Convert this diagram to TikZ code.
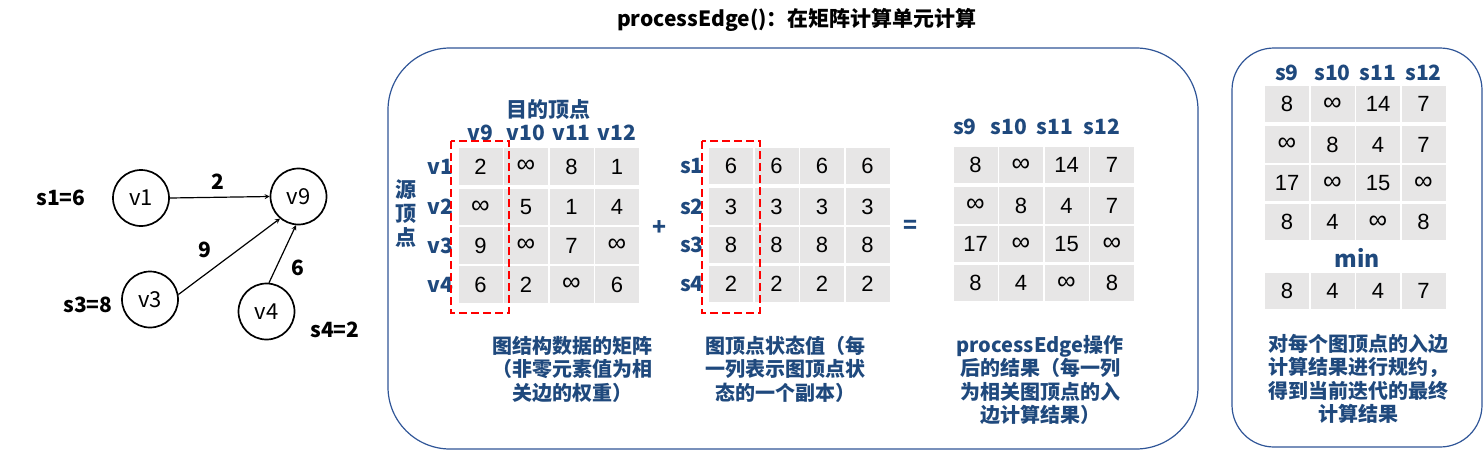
\documentclass[tikz,border=0pt]{standalone}
\usepackage{fontspec}
\setmainfont{Noto Sans CJK SC}
\newfontfamily\cellfont{Liberation Sans}
\usetikzlibrary{positioning}

\definecolor{hdrblue}{RGB}{31,73,125}
\definecolor{panelblue}{RGB}{47,85,151}
\definecolor{cellgray}{RGB}{231,230,230}

\newcommand{\infsym}{{\fontsize{26}{24}\selectfont ∞}}

\tikzset{
  vert/.style={circle, draw, line width=1.7pt, minimum size=56pt, inner sep=0pt, font=\fontsize{22}{24}\selectfont},
  wlabel/.style={inner sep=0pt, font=\fontsize{21}{24}\selectfont\bfseries},
  cell/.style={fill=cellgray, minimum width=44pt, minimum height=36.5pt, inner sep=0pt, font=\fontsize{22}{24}\cellfont},
  hdr/.style={text=hdrblue, inner sep=0pt, font=\fontsize{21}{24}\selectfont\bfseries},
  caption/.style={text=hdrblue, align=center, inner sep=0pt, font=\fontsize{20}{23.5}\selectfont\bfseries},
  panel/.style={draw=panelblue, line width=1.2pt},
  selbox/.style={draw=red, line width=1.8pt, dash pattern=on 8pt off 4pt},
}

% one block of gray cells, named #1-row-col
\newcommand{\gridcells}[4]{%
  \foreach \rowvals [count=\ri] in {#4} {
    \pgfmathsetmacro{\ry}{{0,40.5,79,118}[\ri-1]}
    \foreach \v [count=\ci] in \rowvals
      \node[cell] (#1-\ri-\ci) at ({#2+(\ci-1)*45.5},{#3+\ry}) {\v};
  }%
}

\begin{document}
\begin{tikzpicture}[x=1pt, y=-1pt, >=stealth]
  \useasboundingbox (0,0) rectangle (1484,451);
  \node[font=\fontsize{21}{24}\selectfont\bfseries] (title) at (797,20) {processEdge()：在矩阵计算单元计算};
  % graph
  \node[vert] (v1) at (141,198) {v1};
  \node[vert] (v9) at (298.5,196.5) {v9};
  \node[vert] (v3) at (150,299.5) {v3};
  \node[vert] (v4) at (266.5,311.5) {v4};
  \draw[->, line width=1.2pt] (v1.east) -- (v9.west);
  \draw[->, line width=1.2pt] (v3.10) -- (v9.-130);
  \draw[->, line width=1.2pt] (v4.85) -- (v9.-95);
  \node[wlabel] (w1) at (218,182) {2};
  \node[wlabel] (w3) at (205,250) {9};
  \node[wlabel] (w4) at (298,268) {6};
  \node[wlabel] (s1) at (61,198) {s1=6};
  \node[wlabel] (s3) at (88,305) {s3=8};
  \node[wlabel] (s4) at (335,330) {s4=2};
  % panels
  \draw[panel, rounded corners=62pt] (388,48) rectangle (1198,449);
  \draw[panel, rounded corners=42pt] (1232,48) rectangle (1482,447);
  % graph matrix
  \gridcells{A}{480.5}{166.5}{{2,\infsym,8,1},{\infsym,5,1,4},{9,\infsym,7,\infsym},{6,2,\infsym,6}}
  \foreach \n [count=\ci] in {9,10,11,12}
    \node[hdr] (A-h\ci) at (A-1-\ci |- 0,133) {v\n};
  \foreach \ri in {1,...,4}
    \node[hdr, anchor=east] (A-r\ri) at ([xshift=-5pt]A-\ri-1.west) {v\ri};
  \node[hdr] (dst) at (548,110) {目的顶点};
  \node[hdr, align=center] (src) at (406,214) {源\\顶\\点};
  \draw[selbox] (451,141) rectangle (509,313);
  \node[hdr, font=\fontsize{23}{24}\selectfont\bfseries] (plus) at (659,228) {+};
  % state matrix
  \gridcells{B}{731}{166}{{6,6,6,6},{3,3,3,3},{8,8,8,8},{2,2,2,2}}
  \foreach \ri in {1,...,4}
    \node[hdr, anchor=east] (B-r\ri) at ([xshift=-5pt]B-\ri-1.west) {s\ri};
  \draw[selbox] (702,141) rectangle (760,313);
  \node[hdr, font=\fontsize{23}{24}\selectfont\bfseries] (eq) at (910,227) {=};
  % result matrix
  \gridcells{C}{975.5}{165}{{8,\infsym,14,7},{\infsym,8,4,7},{17,\infsym,15,\infsym},{8,4,\infsym,8}}
  \foreach \n/\hx in {9/965,10/1009,11/1055,12/1102}
    \node[hdr] (C-h\n) at (\hx,127) {s\n};
  % reduction
  \gridcells{D}{1287}{104}{{8,\infsym,14,7},{\infsym,8,4,7},{17,\infsym,15,\infsym},{8,4,\infsym,8}}
  \foreach \n [count=\ci] in {9,10,11,12}
    \node[hdr] (D-h\ci) at (D-1-\ci |- 0,73) {s\n};
  \node[hdr, font=\fontsize{23}{24}\selectfont\bfseries] (min) at (1357,258) {min};
  \gridcells{E}{1287}{291}{{8,4,4,7}}
  % captions
  \node[caption] (capA) at (572,369) {图结构数据的矩阵\\（非零元素值为相\\关边的权重）};
  \node[caption] (capB) at (785,369) {图顶点状态值（每\\一列表示图顶点状\\态的一个副本）};
  \node[caption] (capC) at (1040,380) {processEdge操作\\后的结果（每一列\\为相关图顶点的入\\边计算结果）};
  \node[caption] (capD) at (1358,379) {对每个图顶点的入边\\计算结果进行规约，\\得到当前迭代的最终\\计算结果};
\end{tikzpicture}
\end{document}
